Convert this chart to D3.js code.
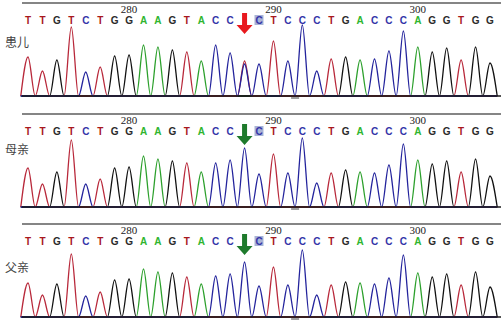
<!DOCTYPE html>
<html>
<head>
<meta charset="utf-8">
<script src="https://cdn.jsdelivr.net/npm/d3@7"></script>
<style>
  body { margin: 0; background: #fff; }
  svg { display: block; }
</style>
</head>
<body>
<svg id="chart"></svg>
<script>
const width = 501;
const height = 321;

// called sequence (base 16 is the site under the arrow)
const sequence = 'TTGTCTGGAAGTACCCCTCCCTGACCCAGGTGG'.split('');
const positionLabels = [{base: 8, text: '280'}, {base: 18, text: '290'}, {base: 28, text: '300'}];
const panelNames = ['患儿', '母亲', '父亲'];
const mutationBase = 16;
const highlightBase = 17;

// peak height of the called base, per panel
const patientPeaks = [39,25,36,69,24,29,40,41,51,49,46,44,35,51,43,32,32,55,35,71,25,37,39,36,37,45,65,49,44,48,36,49,33];
const motherPeaks  = [39,23,35,67,23,28,39,40,51,48,46,44,35,44,47,59,33,53,34,69,24,34,37,35,34,42,63,47,43,46,35,48,31];
const fatherPeaks  = [34,22,33,63,21,25,37,38,48,45,44,40,33,41,43,55,31,50,32,67,22,32,35,34,33,39,62,44,40,43,32,45,30];
// second peaks (heterozygous site)
const patientExtra = [{base: 16, nt: 'T', h: 35}];

const panels = [
  {name: panelNames[0], peaks: patientPeaks, extra: patientExtra, arrow: '#e8191e'},
  {name: panelNames[1], peaks: motherPeaks, extra: [], arrow: '#1e7a2c'},
  {name: panelNames[2], peaks: fatherPeaks, extra: [], arrow: '#1e7a2c'}
];

const traceColor = {A: '#2ca02c', C: '#23239c', G: '#111111', T: '#b8283a'};
const letterColor = {A: '#2fb52f', C: '#3434a8', G: '#2a2a2a', T: '#a8181e'};

const panelTop = [3, 114, 224];
const baseOffset = 93;
const labelDy = [39, 35, 43];

const svg = d3.select('#chart').attr('width', width).attr('height', height);

const x = d3.scaleLinear().domain([1, sequence.length]).range([28, 490]);

panels.forEach((p, k) => {
  const top = panelTop[k];
  const base = top + baseOffset;
  const y = d3.scaleLinear().domain([0, 100]).range([base, base - 100]);
  const g = svg.append('g');

  // top rule
  g.append('line')
    .attr('x1', 22).attr('x2', width)
    .attr('y1', top).attr('y2', top)
    .attr('stroke', '#858585').attr('stroke-width', 2);

  // position numbers
  g.selectAll('.pos').data(positionLabels).enter().append('text')
    .attr('x', d => x(d.base))
    .attr('y', top + 9.5)
    .attr('text-anchor', 'middle')
    .attr('font-family', 'Liberation Serif, serif')
    .attr('font-size', 11)
    .attr('fill', '#222')
    .text(d => d.text);

  // highlight box
  g.append('rect')
    .attr('x', x(highlightBase) - 4.5).attr('y', top + 12)
    .attr('width', 9).attr('height', 10)
    .attr('fill', '#a9b3d6');

  // base calls
  g.selectAll('.nt').data(sequence.map((nt, i) => ({nt, i: i + 1})).filter(d => d.i !== mutationBase))
    .enter().append('text')
    .attr('x', d => x(d.i))
    .attr('y', top + 21)
    .attr('text-anchor', 'middle')
    .attr('font-family', 'Liberation Sans, Arial, sans-serif')
    .attr('font-weight', 'bold')
    .attr('font-size', 10)
    .attr('fill', d => letterColor[d.nt])
    .text(d => d.nt);

  // panel name
  g.append('text')
    .attr('x', 5).attr('y', top + labelDy[k] + 5)
    .attr('font-family', 'Noto Sans CJK SC, sans-serif')
    .attr('font-size', 12)
    .attr('fill', '#444')
    .text(p.name);

  // traces, one per channel
  const line = d3.line().x(d => x(d[0])).y(d => y(d[1])).curve(d3.curveMonotoneX);
  ['A', 'G', 'T', 'C'].forEach(ch => {
    const pts = [[0.5, 0]];
    sequence.forEach((nt, i) => {
      let h = nt === ch ? p.peaks[i] : 0;
      p.extra.forEach(e => { if (e.base === i + 1 && e.nt === ch) h = e.h; });
      if (h > 0) pts.push([i + 1, h]);
      pts.push([i + 1.5, 0]);
    });
    g.append('path').datum(pts)
      .attr('d', line)
      .attr('fill', 'none')
      .attr('stroke', traceColor[ch])
      .attr('stroke-width', 1.3);
  });

  // baseline over the flat parts of the traces
  g.append('line')
    .attr('x1', 22).attr('x2', width)
    .attr('y1', base).attr('y2', base)
    .attr('stroke', '#1a1a1a').attr('stroke-width', 1.5);

  // small cursor mark under the baseline
  g.append('rect')
    .attr('x', x(19.5) - 4).attr('y', base + 1)
    .attr('width', 8).attr('height', 2)
    .attr('fill', '#a0a0a0');

  // arrow at the mutation site
  const ax = x(mutationBase);
  const at = top + 10;
  g.append('path')
    .attr('d', `M${ax - 2.5},${at} L${ax + 2.5},${at} L${ax + 2.5},${at + 12} L${ax + 8},${at + 12} L${ax},${at + 21} L${ax - 8},${at + 12} L${ax - 2.5},${at + 12} Z`)
    .attr('fill', p.arrow);
});
</script>
</body>
</html>
